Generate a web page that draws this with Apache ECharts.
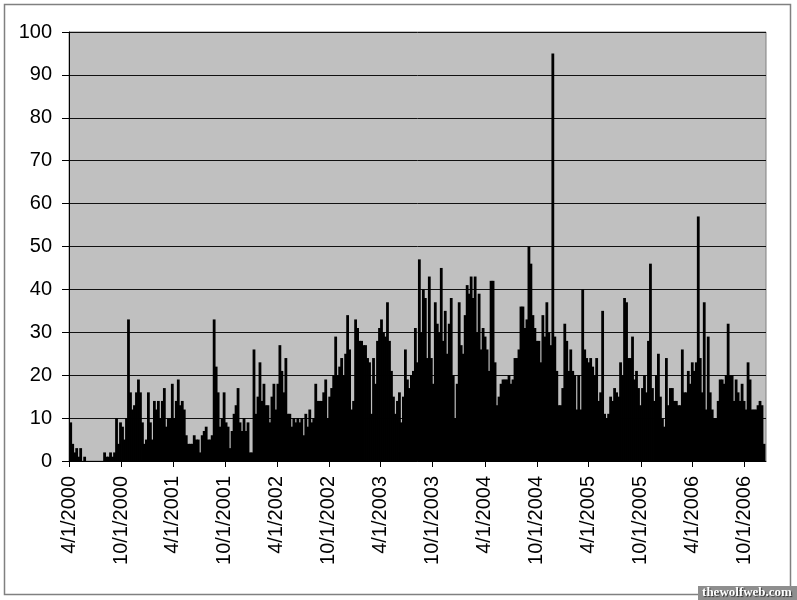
<!DOCTYPE html>
<html>
<head>
<meta charset="utf-8">
<script src="https://cdn.jsdelivr.net/npm/echarts@6/dist/echarts.min.js"></script>
<style>
html,body{margin:0;padding:0;background:#fff;}
#chart{width:797px;height:600px;}
</style>
</head>
<body>
<div id="chart"></div>
<script>
// Tick labels on the date axis (every 6 months)
const tickLabels = ['4/1/2000','10/1/2000','4/1/2001','10/1/2001','4/1/2002','10/1/2002','4/1/2003','10/1/2003','4/1/2004','10/1/2004','4/1/2005','10/1/2005','4/1/2006','10/1/2006'];
// Y axis ticks
const yTicks = [0,10,20,30,40,50,60,70,80,90,100];
// Series start date and step (weekly buckets)
const startDate = '4/1/2000';
const endDate = '12/15/2006';
const stepDays = 7;
const weekOffsetDays = 6;
// Weekly values (max of each week)
const values = [
  9,4,2,3,1,3,0,1,
  0,0,0,0,0,0,0,0,0,
  2,1,1,2,1,2, 10,4,9,8,5,10, 33,16,12,13,16,19, 16,9,4,5,16,9, 5,14,12,14,10,14, 17,8,10,10,18,10, 14,19,13,14,12,
  6,4,4,4,6,5, 5,2,6,7,8,5, 5,6,33,22,16,8, 10,16,9,8,3,7, 11,13,17,9,7,10, 7,9,2,2,26,11, 15,23,14,18,13,13, 9,15,18,12,18,27, 21,16,24,11,11,8, 10,9,10,9,10,
  6,11,8,12,9,10, 18,14,14,14,16,19, 10,15,17,20,29,20, 22,24,20,25,34,26, 12,14,33,31,28,28, 27,27,24,23,11,24, 18,28,31,33,30,29, 37,28,21,15,11,14, 16,9,15,26,19,17, 20,21,31,23,47,
  30,40,38,24,43,24, 18,37,32,30,45,28, 35,25,32,38,20,10, 18,37,27,25,34,41, 39,43,38,43,30,39, 26,31,29,26,21,42, 42,23,13,15,18,19, 19,19,20,18,19,24, 24,26,36,36,31,33, 50,46,34,31,28,
  28,23,34,29,37,30, 27,95,29,21,13,13, 17,32,28,21,26,21, 20,12,20,12,40,26, 24,23,24,22,20,24, 14,16,35,11,10,11, 15,14,17,16,15,23, 20,38,37,24,24,29, 19,21,17,13,17,20, 16,28,46,17,14,20,
  25,15,10,8,24,13, 17,17,14,14,13,13, 26,16,16,21,18,23, 21,23,57,24,16,37, 12,29,16,12,10,10, 14,19,19,18,20,32, 20,20,14,19,16,14, 18,14,12,23,19,12, 12,12,13,14,13,4
];

function dayOffset(s){
  const p = s.split('/').map(Number);
  const b = startDate.split('/').map(Number);
  return Math.round((Date.UTC(p[2],p[0]-1,p[1]) - Date.UTC(b[2],b[0]-1,b[1]))/86400000);
}
const tickValues = tickLabels.map(dayOffset);
const labelByValue = {};
tickValues.forEach((v,i)=>{labelByValue[v]=tickLabels[i];});
const seriesData = values.map((v,i)=>[i*stepDays + weekOffsetDays, v]);

const FONT = '"Liberation Sans", Arial, sans-serif';
const chart = echarts.init(document.getElementById('chart'), null, {renderer:'canvas'});
chart.setOption({
  animation:false,
  backgroundColor:'#ffffff',
  grid:{left:69, top:32, width:697, height:429, show:true, backgroundColor:'#c0c0c0', borderColor:'#808080', borderWidth:1},
  xAxis:{
    type:'value', min:0, max:dayOffset(endDate),
    axisLine:{show:true, lineStyle:{color:'#000', width:1}},
    axisTick:{show:true, length:6, customValues:tickValues, lineStyle:{color:'#000'}},
    axisLabel:{show:true, customValues:tickValues, rotate:90, margin:15, fontSize:20, color:'#000', fontFamily:FONT,
      formatter:(v)=>labelByValue[Math.round(v)] || ''},
    splitLine:{show:false}
  },
  yAxis:{
    type:'value', min:yTicks[0], max:yTicks[yTicks.length-1], interval:10,
    axisLine:{show:true, lineStyle:{color:'#000', width:1}},
    axisTick:{show:true, length:7, lineStyle:{color:'#000'}},
    axisLabel:{margin:17, fontSize:20, color:'#000', fontFamily:FONT},
    splitLine:{show:true, lineStyle:{color:'#111', width:1}}
  },
  series:[{
    type:'bar', data:seriesData, barWidth:2.8,
    itemStyle:{color:'#000'}, large:false
  }],
  graphic:[
    {type:'rect', shape:{x:4.5, y:4.5, width:786, height:590}, style:{fill:'none', stroke:'#808080', lineWidth:1.5}, silent:true},
    {type:'rect', shape:{x:698, y:586, width:99, height:14}, style:{fill:'#8e8e8e'}, silent:true},
    {type:'text', x:747, y:593, style:{text:'thewolfweb.com', fill:'#ffffff', font:'bold 13px "Liberation Serif", serif', align:'center', verticalAlign:'middle', textShadowColor:'#333', textShadowOffsetX:1, textShadowOffsetY:1, textShadowBlur:1}, silent:true}
  ]
});
</script>
</body>
</html>
